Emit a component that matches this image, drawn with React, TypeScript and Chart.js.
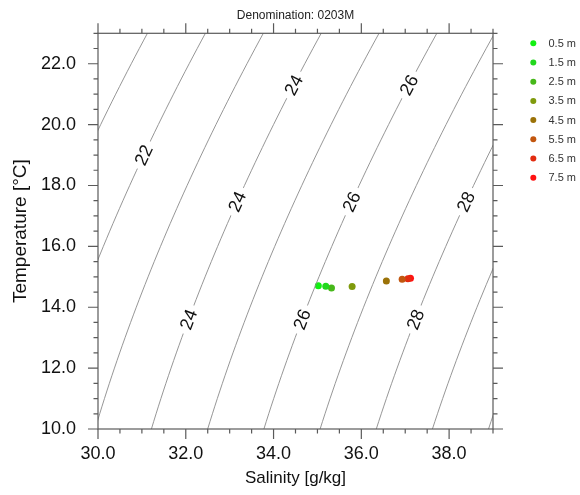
import { useEffect, useRef } from 'react';
import { Chart, registerables } from 'chart.js';

Chart.register(...registerables);

// Sample depths with their salinity (g/kg) and temperature (°C)
const depthLabels = ['0.5 m', '1.5 m', '2.5 m', '3.5 m', '4.5 m', '5.5 m', '6.5 m', '7.5 m'];
const salinity = [35.02, 35.19, 35.32, 35.79, 36.57, 36.93, 37.06, 37.12];
const temperature = [14.71, 14.69, 14.63, 14.68, 14.86, 14.92, 14.94, 14.95];
const depthColors = ['#12f012', '#22d81e', '#46b81a', '#7f9a0c', '#9b7208', '#c2560e', '#e22c10', '#ff1212'];

// Isopycnal levels (sigma-t, kg/m³ - 1000) and where their labels sit
const sigmaLevels = [20, 21, 22, 23, 24, 25, 26, 27, 28, 29, 30];
const labelLevels = [22, 24, 26, 24, 26, 28, 24, 26, 28];
const labelTemps = [19.0, 21.3, 21.3, 17.47, 17.47, 17.47, 13.6, 13.6, 13.6];

const xTicks = [30, 32, 34, 36, 38];
const yTicks = [10, 12, 14, 16, 18, 20, 22];
const X_MIN = 30, X_MAX = 39, Y_MIN = 10, Y_MAX = 23;

const FONT = '"Liberation Sans", Arial, Helvetica, sans-serif';

// UNESCO (EOS-80) seawater density at surface pressure
function density(S: number, T: number): number {
  const rw = 999.842594 + 6.793952e-2 * T - 9.09529e-3 * T * T + 1.001685e-4 * T ** 3
    - 1.120083e-6 * T ** 4 + 6.536332e-9 * T ** 5;
  const A = 8.24493e-1 - 4.0899e-3 * T + 7.6438e-5 * T * T - 8.2467e-7 * T ** 3 + 5.3875e-9 * T ** 4;
  const B = -5.72466e-3 + 1.0227e-4 * T - 1.6546e-6 * T * T;
  const C = 4.8314e-4;
  return rw + A * S + B * S ** 1.5 + C * S * S;
}

// Salinity at which sigma-t equals `sigma` for temperature T (density rises with S)
function salinityAt(sigma: number, T: number): number {
  let lo = 0, hi = 60;
  for (let i = 0; i < 60; i++) {
    const mid = (lo + hi) / 2;
    if (density(mid, T) - 1000 < sigma) lo = mid; else hi = mid;
  }
  return (lo + hi) / 2;
}

function isopycnal(sigma: number) {
  const pts: { x: number; y: number }[] = [];
  for (let T = Y_MIN - 1; T <= Y_MAX + 1.0001; T += 0.25) {
    pts.push({ x: salinityAt(sigma, T), y: T });
  }
  return pts;
}

const framePlugin = {
  id: 'tsFrame',
  afterDatasetsDraw(chart: any) {
    const { ctx, scales } = chart;
    const xs = scales.x, ys = scales.y;

    // contour labels, with a white gap cut into the line
    ctx.save();
    ctx.font = `18px ${FONT}`;
    ctx.textAlign = 'center';
    ctx.textBaseline = 'middle';
    labelLevels.forEach((lev, i) => {
      const T = labelTemps[i];
      const px = xs.getPixelForValue(salinityAt(lev, T));
      const py = ys.getPixelForValue(T);
      const px2 = xs.getPixelForValue(salinityAt(lev, T + 0.5));
      const py2 = ys.getPixelForValue(T + 0.5);
      const ang = Math.atan2(py2 - py, px2 - px);
      const txt = String(lev);
      ctx.save();
      ctx.translate(px, py);
      ctx.rotate(ang);
      const w = ctx.measureText(txt).width;
      ctx.fillStyle = '#ffffff';
      ctx.fillRect(-w / 2 - 5, -7, w + 10, 14);
      ctx.fillStyle = '#111111';
      ctx.fillText(txt, 0, 1);
      ctx.restore();
    });
    ctx.restore();
  },
  afterDraw(chart: any) {
    const { ctx, chartArea: a, scales } = chart;
    const xs = scales.x, ys = scales.y;
    ctx.save();
    ctx.strokeStyle = '#5a5a5a';
    ctx.lineWidth = 1.2;
    ctx.strokeRect(a.left, a.top, a.right - a.left, a.bottom - a.top);

    const major = 10, minor = 4.5;
    ctx.beginPath();
    for (let v = X_MIN; v <= X_MAX + 1e-9; v += 0.5) {
      const p = xs.getPixelForValue(v);
      const len = Math.abs(v % 2) < 1e-9 ? major : minor;
      ctx.moveTo(p, a.bottom); ctx.lineTo(p, a.bottom + len);
      ctx.moveTo(p, a.top); ctx.lineTo(p, a.top - len);
    }
    for (let v = Y_MIN; v <= Y_MAX + 1e-9; v += 0.5) {
      const p = ys.getPixelForValue(v);
      const len = Math.abs(v % 2) < 1e-9 ? major : minor;
      ctx.moveTo(a.left, p); ctx.lineTo(a.left - len, p);
      ctx.moveTo(a.right, p); ctx.lineTo(a.right + len, p);
    }
    ctx.stroke();

    // depth legend
    ctx.font = `11px ${FONT}`;
    ctx.textAlign = 'left';
    ctx.textBaseline = 'middle';
    depthLabels.forEach((lab, i) => {
      const cy = 43.3 + i * 19.2;
      ctx.fillStyle = depthColors[i];
      ctx.beginPath();
      ctx.arc(533.3, cy, 3, 0, Math.PI * 2);
      ctx.fill();
      ctx.fillStyle = '#333333';
      ctx.fillText(lab, 548.5, cy + 0.5);
    });
    ctx.restore();
  },
};

export default function App() {
  const canvasRef = useRef<HTMLCanvasElement | null>(null);

  useEffect(() => {
    const canvas = canvasRef.current;
    if (!canvas) return;

    const contourSets = sigmaLevels.map((lev) => ({
      type: 'scatter' as const,
      label: `sigma ${lev}`,
      data: isopycnal(lev),
      showLine: true,
      borderColor: '#8a8a8a',
      borderWidth: 0.9,
      pointRadius: 0,
      pointHoverRadius: 0,
      fill: false,
      clip: 0,
    }));
    const pointSets = depthLabels.map((lab, i) => ({
      type: 'scatter' as const,
      label: lab,
      data: [{ x: salinity[i], y: temperature[i] }],
      backgroundColor: depthColors[i],
      borderWidth: 0,
      pointRadius: 3.5,
      clip: 0,
    }));

    const chart = new Chart(canvas, {
      type: 'scatter',
      data: { datasets: [...contourSets, ...pointSets] },
      options: {
        animation: false,
        responsive: false,
        devicePixelRatio: 1,
        layout: { padding: { left: 0, right: 87, top: 0, bottom: 0 } },
        plugins: {
          legend: { display: false },
          tooltip: { enabled: false },
          title: {
            display: true,
            text: 'Denomination: 0203M',
            fullSize: false,
            color: '#222222',
            font: { family: FONT, size: 12, weight: 'normal' },
            padding: { top: 8, bottom: 10.9 },
          },
        },
        scales: {
          x: {
            type: 'linear',
            min: X_MIN,
            max: X_MAX,
            afterFit: (s: any) => { s.height = 66; },
            afterBuildTicks: (s: any) => { s.ticks = xTicks.map((v) => ({ value: v })); },
            grid: { display: false, drawTicks: false },
            border: { display: false },
            ticks: {
              padding: 14,
              color: '#111111',
              font: { family: FONT, size: 18 },
              callback: (v: any) => Number(v).toFixed(1),
            },
            title: {
              display: true,
              text: 'Salinity [g/kg]',
              color: '#111111',
              font: { family: FONT, size: 17 },
              padding: { top: 0, bottom: 6 },
            },
          },
          y: {
            type: 'linear',
            min: Y_MIN,
            max: Y_MAX,
            afterFit: (s: any) => { s.width = 98; },
            afterBuildTicks: (s: any) => { s.ticks = yTicks.map((v) => ({ value: v })); },
            grid: { display: false, drawTicks: false },
            border: { display: false },
            ticks: {
              padding: 22,
              color: '#111111',
              font: { family: FONT, size: 18 },
              callback: (v: any) => Number(v).toFixed(1),
            },
            title: {
              display: true,
              text: 'Temperature [°C]',
              color: '#111111',
              font: { family: FONT, size: 19 },
              padding: { top: 9, bottom: 0 },
            },
          },
        },
      },
      plugins: [framePlugin],
    });

    return () => chart.destroy();
  }, []);

  return (
    <div style={{ position: 'absolute', left: 0, top: 0, width: 580, height: 495, background: '#ffffff' }}>
      <canvas ref={canvasRef} width={580} height={495} />
    </div>
  );
}
